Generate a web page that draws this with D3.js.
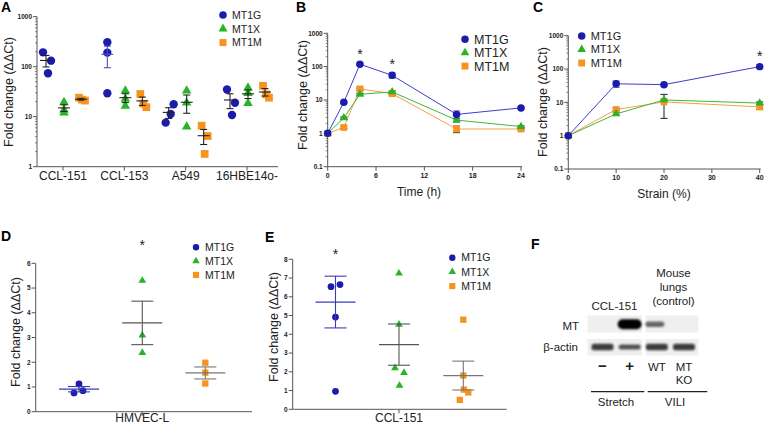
<!DOCTYPE html>
<html><head><meta charset="utf-8">
<script src="https://cdn.jsdelivr.net/npm/d3@7"></script>
<style>body{margin:0;background:#fff} svg{display:block;font-family:"Liberation Sans",Arial,Helvetica,sans-serif}</style>
</head><body><svg id="c" width="765" height="425"></svg>
<script>
// ---------- DATA ----------
const seriesNames = ["MT1G", "MT1X", "MT1M"];
// Panel A
const catsA = ["CCL-151", "CCL-153", "A549", "16HBE14o-"];
const aMT1G = [[194, 132, 74], [309, 191, 29.5], [7.6, 17.7, 11.3], [35, 19, 10.8]];
const aMT1X = [[19.4, 12, 13.6], [33, 16.4, 22.6], [33, 19, 6.3], [38, 18.6, 29.5]];
const aMT1M = [[24, 21, 22], [28.5, 15.5, 18.2], [6.6, 4.1, 1.8], [41.5, 24, 28]];
const aTicks = [1, 10, 100, 1000];
// Panel B
const bTime = [0, 2, 4, 8, 16, 24];
const bMT1G = [1, 8.5, 118, 55, 3.7, 5.8];
const bMT1X = [1, 2.9, 14.8, 17.5, 2.5, 1.6];
const bMT1M = [1, 1.5, 21.5, 15.5, 1.35, 1.35];
const bErrG = [0, 0.5, 10, 10, 1.0, 0.3];
const bErrX = [0, 0.2, 1.0, 1.5, 0.3, 0.1];
const bErrM = [0, 0.1, 1.5, 1.5, 0.3, 0.1];
const bTicksX = [0, 6, 12, 18, 24];
const bStars = [4, 8];
// Panel C
const cStrain = [0, 10, 20, 40];
const cMT1G = [1, 36, 34, 118];
const cMT1X = [1, 4.5, 11.8, 9.5];
const cMT1M = [1, 6.1, 10.3, 7.3];
const cErrG = [0, 8, 3, 12];
const cErrX = [0, 0.4, 0.8, 0.8];
const cErrM = [0, 0.5, 7, 1.2];
const cTicksX = [0, 10, 20, 30, 40];
const cStars = [40];
const logTicks = [0.1, 1, 10, 100, 1000];
// Panel D
const dCat = "HMVEC-L";
const dMT1G = [0.76, 1.12, 0.85];
const dMT1X = [5.3, 3.09, 2.38];
const dMT1M = [1.98, 1.58, 1.14];
const dTicks = [0, 1, 2, 3, 4, 5, 6];
// Panel E
const eCat = "CCL-151";
const eMT1G = [6.54, 6.65, 4.92, 0.96];
const eMT1X = [7.25, 4.52, 2.2, 1.95, 1.27];
const eMT1M = [4.78, 1.8, 1.05, 0.9, 0.5];
const eMean = [5.72, 3.45, 1.8];
const eSem = [1.38, 1.1, 0.77];
const eTicks = [0, 1, 2, 3, 4, 5, 6, 7, 8];
// Panel F
const fLanes = ["−", "+", "WT", "MT"];
const fLanes2 = ["", "", "", "KO"];
const fMT = [0, 1, 0.35, 0];
const fActin = [0.85, 0.75, 0.85, 0.85];

// ---------- STYLE ----------
const colors = ["#1c1cab", "#27b427", "#f7941e"];
const lineColors = ["#3d3dd0", "#3cb83c", "#f5a04a"];
const errColA = ["#5050c0", "#222", "#222"];
const errColDE = ["#3b3bb8", "#555", "#777"];
const symTypes = [d3.symbolCircle, d3.symbolTriangle, d3.symbolSquare];
const axisCol = "#555";
const svg = d3.select("#c");

function sym(type, size) { return d3.symbol().type(symTypes[type]).size(size)(); }
function mean(a) { return d3.mean(a); }
function sem(a) { return d3.deviation(a) / Math.sqrt(a.length); }

function panelLetter(t, x, y) {
  svg.append("text").attr("x", x).attr("y", y).attr("font-size", 14).attr("font-weight", "bold").text(t);
}
function yTitle(x, y) {
  svg.append("text").attr("transform", `translate(${x},${y}) rotate(-90)`).attr("text-anchor", "middle")
    .attr("font-size", 12.5).attr("fill", "#222").text("Fold change (ΔΔCt)");
}
function legend(x, y, dy, fs, sizes) {
  const g = svg.append("g");
  seriesNames.forEach((n, i) => {
    g.append("path").attr("d", sym(i, sizes[i])).attr("fill", colors[i])
      .attr("transform", `translate(${x},${y + i * dy})`);
    g.append("text").attr("x", x + 9).attr("y", y + i * dy).attr("dy", "0.36em")
      .attr("font-size", fs).attr("fill", "#222").text(n);
  });
}
function logYAxis(y, x0, lo, hi) {
  const g = svg.append("g");
  g.append("line").attr("x1", x0).attr("x2", x0).attr("y1", y(lo)).attr("y2", y(hi)).attr("stroke", axisCol);
  for (let k = Math.log10(lo); k < Math.log10(hi); k++) {
    for (let m = 2; m <= 9; m++) {
      const v = m * Math.pow(10, k);
      g.append("line").attr("x1", x0 - 2).attr("x2", x0).attr("y1", y(v)).attr("y2", y(v)).attr("stroke", axisCol).attr("stroke-width", 0.7);
    }
  }
  return g;
}
function yTicks(y, x0, ticks, fmt) {
  const g = svg.append("g");
  ticks.forEach(t => {
    g.append("line").attr("x1", x0 - 4).attr("x2", x0).attr("y1", y(t)).attr("y2", y(t)).attr("stroke", axisCol);
    g.append("text").attr("x", x0 - 5).attr("y", y(t)).attr("dy", "0.35em").attr("text-anchor", "end")
      .attr("font-size", 6.5).attr("font-weight", "bold").attr("fill", "#222").text(fmt ? fmt(t) : t);
  });
}
function errBar(x, yTop, yBot, cap, col) {
  svg.append("line").attr("x1", x).attr("x2", x).attr("y1", yTop).attr("y2", yBot).attr("stroke", col).attr("stroke-width", 1.1);
  [yTop, yBot].forEach(yy => svg.append("line").attr("x1", x - cap).attr("x2", x + cap).attr("y1", yy).attr("y2", yy).attr("stroke", col).attr("stroke-width", 1.1));
}

// ---------- PANEL A ----------
(function () {
  const y = d3.scaleLog().domain([1, 1000]).range([166.7, 16.7]);
  const x = d3.scalePoint().domain(catsA).range([63, 247]);
  const off = [-17, 1, 18];
  const jit = [[-3, 5, 2], [0, 0, 0], [-2, 4, 1]];
  panelLetter("A", 1, 12);
  yTitle(13, 92);
  logYAxis(y, 37, 1, 1000);
  yTicks(y, 37, aTicks, d => d3.format("d")(d));
  svg.append("line").attr("x1", 37).attr("x2", 278).attr("y1", 166.7).attr("y2", 166.7).attr("stroke", axisCol);
  catsA.forEach(c => {
    svg.append("line").attr("x1", x(c)).attr("x2", x(c)).attr("y1", 166.7).attr("y2", 170.5).attr("stroke", axisCol);
    svg.append("text").attr("x", x(c)).attr("y", 179.5).attr("text-anchor", "middle").attr("font-size", 12).attr("fill", "#222").text(c);
  });
  const sets = [aMT1G, aMT1X, aMT1M];
  const sizes = [55, 40, 60];
  sets.forEach((set, s) => {
    set.forEach((vals, ci) => {
      const cx = x(catsA[ci]) + off[s];
      vals.forEach((v, k) => {
        const jj = (ci === 1 && s === 0) ? 0 : jit[s][k] * (ci % 2 ? 1 : 1);
        svg.append("path").attr("d", sym(s, sizes[s])).attr("fill", colors[s])
          .attr("transform", `translate(${cx + jj},${y(v)})`);
      });
      const m = mean(vals), e = sem(vals);
      const col = (s === 0 && ci === 1) ? errColA[0] : "#222";
      errBar(cx, y(m + e), y(Math.max(m - e, 1.05)), 3.5, col);
      svg.append("line").attr("x1", cx - 6).attr("x2", cx + 6).attr("y1", y(m)).attr("y2", y(m)).attr("stroke", col).attr("stroke-width", 1.1);
    });
  });
  legend(223, 15, 13.8, 10.5, [45, 35, 50]);
})();

// ---------- LINE PANELS B, C ----------
function linePanel(opt) {
  const x = d3.scaleLinear().domain(opt.xd).range(opt.xr);
  const y = d3.scaleLog().domain([0.1, 1000]).range(opt.yr);
  logYAxis(y, opt.xr[0], 0.1, 1000);
  yTicks(y, opt.xr[0], logTicks, d => d < 1 ? "0.1" : d3.format("d")(d));
  svg.append("line").attr("x1", opt.xr[0]).attr("x2", opt.xr[1] + 1).attr("y1", opt.yr[0]).attr("y2", opt.yr[0]).attr("stroke", axisCol);
  opt.ticks.forEach(t => {
    svg.append("line").attr("x1", x(t)).attr("x2", x(t)).attr("y1", opt.yr[0]).attr("y2", opt.yr[0] + 4).attr("stroke", axisCol);
    svg.append("text").attr("x", x(t)).attr("y", opt.yr[0] + 11).attr("text-anchor", "middle").attr("font-size", 7)
      .attr("font-weight", "bold").attr("fill", "#222").text(t);
  });
  svg.append("text").attr("x", opt.titleX).attr("y", opt.yr[0] + 29).attr("text-anchor", "middle").attr("font-size", 12).attr("fill", "#222").text(opt.title);
  const line = d3.line().x((d, i) => x(opt.xs[i])).y(d => y(d));
  [2, 1, 0].forEach(s => {
    svg.append("path").attr("d", line(opt.series[s])).attr("fill", "none").attr("stroke", lineColors[s]).attr("stroke-width", 1);
  });
  [2, 1, 0].forEach(s => {
    opt.series[s].forEach((v, i) => {
      const e = opt.errs[s][i];
      if (e > 0) errBar(x(opt.xs[i]), y(v + e), y(v - e), 3.5, s === 0 ? "#6b6bd0" : "#333");
    });
  });
  const sizes = [44, 30, 46];
  [2, 1, 0].forEach(s => {
    opt.series[s].forEach((v, i) => {
      svg.append("path").attr("d", sym(s, sizes[s])).attr("fill", colors[s])
        .attr("transform", `translate(${x(opt.xs[i])},${y(v)})`);
    });
  });
  opt.stars.forEach(t => {
    const i = opt.xs.indexOf(t);
    svg.append("text").attr("x", x(t)).attr("y", y(opt.series[0][i] + opt.errs[0][i]) - 4).attr("text-anchor", "middle")
      .attr("font-size", 14).attr("fill", "#222").text("*");
  });
}
panelLetter("B", 296, 12);
yTitle(307, 95);
linePanel({ xd: [0, 24], xr: [327.7, 521], yr: [166.7, 33.3], ticks: bTicksX, xs: bTime,
  series: [bMT1G, bMT1X, bMT1M], errs: [bErrG, bErrX, bErrM], title: "Time (h)", titleX: 419, stars: bStars });
legend(465, 39.3, 13.4, 12.5, [44, 32, 48]);

panelLetter("C", 533, 12);
yTitle(547, 102);
linePanel({ xd: [0, 40], xr: [568.3, 759.7], yr: [169, 35.7], ticks: cTicksX, xs: cStrain,
  series: [cMT1G, cMT1X, cMT1M], errs: [cErrG, cErrX, cErrM], title: "Strain (%)", titleX: 664, stars: cStars });
legend(581.7, 36, 13.5, 11, [44, 32, 48]);

// ---------- SCATTER PANELS D, E ----------
function dotPanel(opt) {
  const y = d3.scaleLinear().domain(opt.yd).range(opt.yr);
  svg.append("line").attr("x1", opt.x0).attr("x2", opt.x0).attr("y1", opt.yr[0]).attr("y2", opt.yr[1]).attr("stroke", axisCol);
  yTicks(y, opt.x0, opt.ticks);
  svg.append("line").attr("x1", opt.x0).attr("x2", opt.x1).attr("y1", opt.yr[0]).attr("y2", opt.yr[0]).attr("stroke", axisCol);
  svg.append("line").attr("x1", opt.gx[1]).attr("x2", opt.gx[1]).attr("y1", opt.yr[0]).attr("y2", opt.yr[0] + 4).attr("stroke", axisCol);
  svg.append("text").attr("x", opt.gx[1]).attr("y", 422).attr("text-anchor", "middle").attr("font-size", 12).attr("fill", "#222").text(opt.cat);
  const sizes = [36, 26, 40];
  opt.series.forEach((vals, s) => {
    const m = opt.means ? opt.means[s] : mean(vals);
    const e = opt.sems ? opt.sems[s] : sem(vals);
    const cx = opt.gx[s];
    vals.forEach((v, k) => {
      svg.append("path").attr("d", sym(s, sizes[s])).attr("fill", colors[s])
        .attr("transform", `translate(${cx + opt.jit[s][k]},${y(v)})`);
    });
    errBar(cx, y(m + e), y(m - e), 11, errColDE[s]);
    svg.append("line").attr("x1", cx - 20).attr("x2", cx + 20).attr("y1", y(m)).attr("y2", y(m)).attr("stroke", errColDE[s]).attr("stroke-width", 1.2);
  });
  svg.append("text").attr("x", opt.gx[opt.star]).attr("y", opt.starY).attr("text-anchor", "middle").attr("font-size", 14).attr("fill", "#222").text("*");
}
panelLetter("D", 1, 241);
yTitle(20, 332);
dotPanel({ yd: [0, 6], yr: [411.7, 263.3], x0: 35.7, x1: 252, gx: [79, 142.3, 205.3], ticks: dTicks, cat: dCat,
  series: [dMT1G, dMT1X, dMT1M], jit: [[-5, 0, 4], [0, 0, 0], [0, 0, 0]], star: 1, starY: 250 });
legend(196, 247.3, 13.8, 10.5, [32, 24, 38]);

panelLetter("E", 265, 242);
yTitle(277.5, 327);
dotPanel({ yd: [0, 8], yr: [409.3, 259.3], x0: 292.7, x1: 506.7, gx: [335.5, 399, 463.3], ticks: eTicks, cat: eCat,
  series: [eMT1G, eMT1X, eMT1M], means: eMean, sems: eSem,
  jit: [[-4.5, 4.5, 0, 0], [0, 0, -4, 5, 0.5], [0, 0, 0.5, 5, -3.5]], star: 0, starY: 259 });
legend(452.3, 257.7, 14.2, 10.5, [32, 24, 38]);

// ---------- PANEL F (blot) ----------
(function () {
  panelLetter("F", 531, 249);
  const defs = svg.append("defs");
  defs.append("filter").attr("id", "blur").attr("x", "-20%").attr("y", "-50%").attr("width", "140%").attr("height", "200%")
    .append("feGaussianBlur").attr("stdDeviation", 1.1);
  const lx = d3.scalePoint().domain(d3.range(fLanes.length)).range([602.5, 684]);
  const boxes = [[587.5, 642], [645.7, 698.3]];
  const rows = [[315.5, 332.5], [339, 355.5]];
  rows.forEach(r => boxes.forEach(b => {
    svg.append("rect").attr("x", b[0]).attr("y", r[0]).attr("width", b[1] - b[0]).attr("height", r[1] - r[0]).attr("fill", "#efefef");
  }));
  // MT bands
  fMT.forEach((v, i) => {
    if (v <= 0) return;
    const w = v > 0.5 ? 24 : 19, h = v > 0.5 ? 10 : 5.5;
    const cx = lx(i) + (v > 0.5 ? 0 : -2);
    svg.append("rect").attr("x", cx - w / 2).attr("y", 324.3 - h / 2).attr("width", w).attr("height", h).attr("rx", h / 2)
      .attr("fill", d3.interpolateGreys(v > 0.5 ? 1 : 0.75)).attr("opacity", v > 0.5 ? 1 : 0.85).attr("filter", "url(#blur)");
  });
  fActin.forEach((v, i) => {
    const w = 22, h = v > 0.8 ? 6.5 : 5;
    svg.append("rect").attr("x", lx(i) - w / 2).attr("y", 347 - h / 2).attr("width", w).attr("height", h).attr("rx", 2.5)
      .attr("fill", "#1e1e1e").attr("opacity", v).attr("filter", "url(#blur)");
  });
  const t = (x, y, s, anchor) => svg.append("text").attr("x", x).attr("y", y).attr("text-anchor", anchor || "middle")
    .attr("font-size", 11.5).attr("fill", "#222").text(s);
  t(673.5, 277, "Mouse"); t(673.5, 291, "lungs"); t(673.5, 305, "(control)");
  t(614.5, 310, "CCL-151");
  t(579, 330, "MT", "end"); t(578, 351, "β-actin", "end");
  fLanes.forEach((s, i) => svg.append("text").attr("x", lx(i)).attr("y", 371).attr("text-anchor", "middle")
    .attr("font-size", i < 2 ? 15 : 11.5).attr("font-weight", i < 2 ? "bold" : "normal").attr("fill", "#222").text(s));
  fLanes2.forEach((s, i) => { if (s) t(lx(i), 384, s); });
  svg.append("line").attr("x1", 591).attr("x2", 644.3).attr("y1", 391.7).attr("y2", 391.7).attr("stroke", "#222").attr("stroke-width", 1.2);
  svg.append("line").attr("x1", 647.7).attr("x2", 707.3).attr("y1", 391.7).attr("y2", 391.7).attr("stroke", "#222").attr("stroke-width", 1.2);
  t(616, 406, "Stretch"); t(675, 406, "VILI");
})();
</script></body></html>
